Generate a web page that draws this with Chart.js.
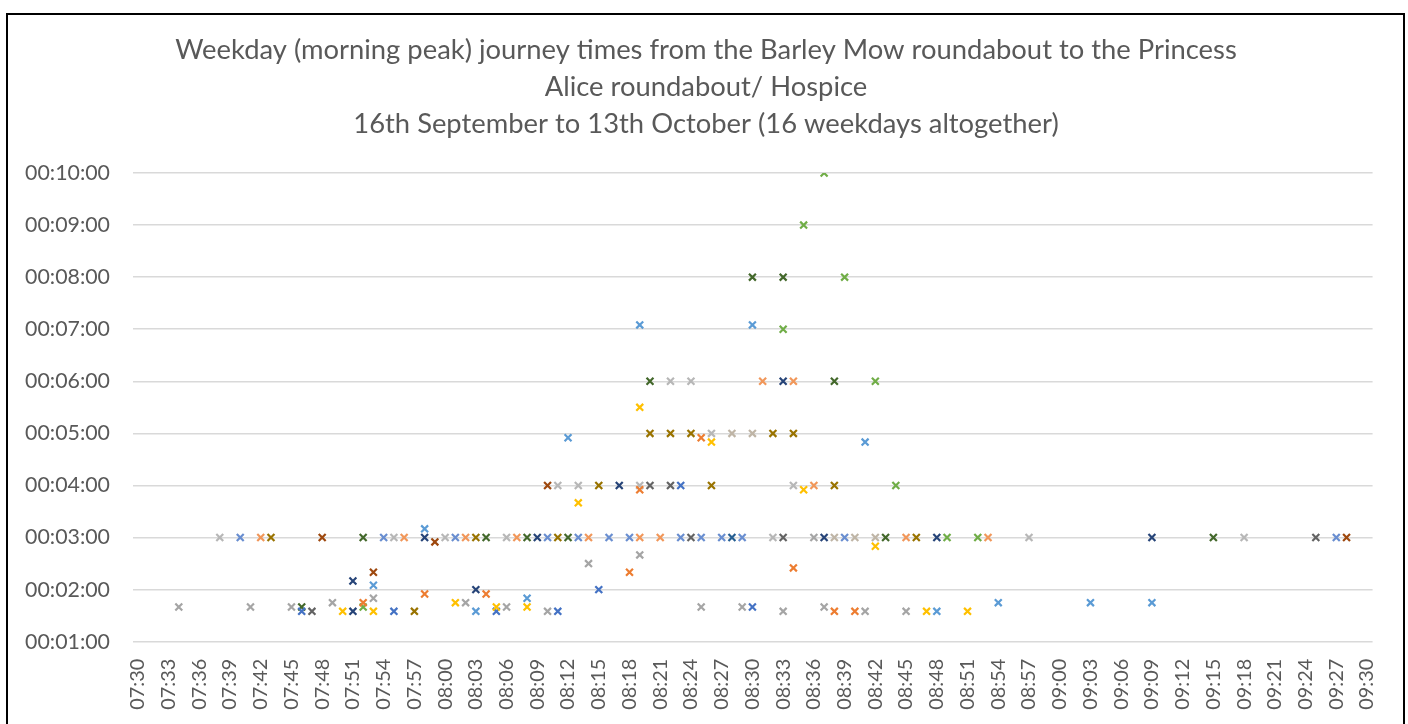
<!DOCTYPE html>
<html><head><meta charset="utf-8">
<script src="https://cdn.jsdelivr.net/npm/chart.js@4.4.0/dist/chart.umd.min.js"></script>
<style>
html,body{margin:0;padding:0;background:#fff;overflow:hidden;width:1408px;height:724px}
#c{position:absolute;left:0;top:0}
#frame{position:absolute;left:6px;top:13px;width:1395px;height:760px;border:2px solid #000;pointer-events:none}
</style></head><body>
<canvas id="c" width="1408" height="724"></canvas>
<div id="frame"></div>
<script>
// ---- data (start time "HH:MM", journey time in seconds) ----
const titleLines = [
  'Weekday (morning peak) journey times from the Barley Mow roundabout to the Princess',
  'Alice roundabout/ Hospice',
  '16th September to 13th October (16 weekdays altogether)'
];
const xTickLabels = ['07:30','07:33','07:36','07:39','07:42','07:45','07:48','07:51','07:54','07:57',
  '08:00','08:03','08:06','08:09','08:12','08:15','08:18','08:21','08:24','08:27','08:30','08:33',
  '08:36','08:39','08:42','08:45','08:48','08:51','08:54','08:57','09:00','09:03','09:06','09:09',
  '09:12','09:15','09:18','09:21','09:24','09:27','09:30'];
const yTickLabels = ['00:01:00','00:02:00','00:03:00','00:04:00','00:05:00','00:06:00','00:07:00','00:08:00','00:09:00','00:10:00'];

const day1 = [['07:53',125],['07:58',190],['08:03',95],['08:08',110],['08:12',295],['08:19',425],['08:30',425],['08:41',290],['08:48',95],['08:54',105],['09:03',105],['09:09',105]];
const day2 = [['07:52',105],['07:58',115],['08:04',115],['08:18',140],['08:19',235],['08:25',295],['08:34',145],['08:38',95],['08:40',95]];
const day3 = [['07:34',100],['07:41',100],['07:45',100],['07:49',105],['07:53',110],['08:02',105],['08:06',100],['08:10',95],['08:14',150],['08:19',160],['08:25',100],['08:29',100],['08:33',95],['08:36',180],['08:37',100],['08:41',95],['08:45',95]];
const day4 = [['07:50',95],['07:53',95],['08:01',105],['08:05',100],['08:08',100],['08:13',220],['08:19',330],['08:26',290],['08:35',235],['08:42',170],['08:47',95],['08:51',95]];
const day5 = [['07:46',95],['07:55',95],['08:05',95],['08:11',95],['08:15',120],['08:23',240],['08:30',100]];
const day6 = [['07:52',100],['08:33',420],['08:35',540],['08:37',600],['08:39',480],['08:42',360],['08:44',240],['08:49',180],['08:52',180]];
const day7 = [['08:28',180]];
const day8 = [['07:48',180],['07:53',140],['07:59',175],['08:10',240],['09:28',180]];
const day9 = [['07:47',95],['08:20',240],['08:22',240],['08:24',180],['08:33',180],['09:25',180]];
const day10 = [['07:43',180],['07:57',95],['08:03',180],['08:11',180],['08:15',240],['08:20',300],['08:22',300],['08:24',300],['08:26',240],['08:32',300],['08:34',300],['08:38',240],['08:46',180]];
const day11 = [['07:51',130],['07:51',95],['07:58',180],['08:03',120],['08:09',180],['08:17',240],['08:33',360],['08:37',180],['08:48',180],['09:09',180]];
const day12 = [['07:46',100],['07:52',180],['08:04',180],['08:08',180],['08:12',180],['08:20',360],['08:30',480],['08:33',480],['08:38',360],['08:43',180],['09:15',180]];
const day13 = [['07:42',180],['07:56',180],['08:02',180],['08:07',180],['08:14',180],['08:19',180],['08:21',180],['08:31',360],['08:34',360],['08:36',240],['08:45',180],['08:53',180]];
const day14 = [['07:38',180],['07:55',180],['08:00',180],['08:06',180],['08:11',240],['08:13',240],['08:19',240],['08:22',360],['08:24',360],['08:26',300],['08:32',180],['08:34',240],['08:57',180],['09:18',180]];
const day15 = [['07:40',180],['07:54',180],['08:01',180],['08:10',180],['08:13',180],['08:16',180],['08:18',180],['08:23',180],['08:25',180],['08:27',180],['08:29',180],['08:39',180],['09:27',180]];
const day16 = [['08:28',300],['08:30',300],['08:38',180],['08:40',180],['08:42',180]];

const seriesList = [day1,day2,day3,day4,day5,day6,day7,day8,day9,day10,day11,day12,day13,day14,day15,day16];
const seriesColors = ['#5B9BD5','#ED7D31','#A5A5A5','#FFC000','#4472C4','#70AD47','#255E91','#9E480E',
  '#636363','#997300','#264478','#43682B','#F1975A','#B7B7B7','#698ED0','#BFB5A6'];

// ---- helpers ----
const toMin = s => { const [h,m] = s.split(':').map(Number); return h*60+m; };
const toSec = s => { const p = s.split(':').map(Number); return p[0]*3600+p[1]*60+p[2]; };
const xTickVals = xTickLabels.map(toMin);
const yTickVals = yTickLabels.map(toSec);

function fitSize(text, family, weight, target){
  const c = document.createElement('canvas').getContext('2d');
  c.font = weight + ' 100px ' + family;
  return 100 * target / c.measureText(text).width;
}
const FAM = 'Lato, "Open Sans", sans-serif';
const titleSize = fitSize(titleLines[0], FAM, '400', 1062);
const ySize = fitSize('00:10:00', FAM, '400', 85);
const xSize = fitSize('07:30', FAM, '400', 51);

const datasets = seriesList.map((s,i) => ({
  label: 'Day ' + (i+1),
  data: s.map(([t,v]) => ({x: toMin(t), y: v})),
  pointStyle: 'crossRot',
  pointRadius: 4.9,
  pointBorderWidth: 2.2,
  borderColor: seriesColors[i],
  backgroundColor: seriesColors[i],
  showLine: false
}));

const titleShift = {
  id: 'titleShift',
  afterLayout(chart) {
    const t = chart.titleBlock;
    if (t) { t.left += 19; t.right += 19; }
  }
};

new Chart(document.getElementById('c'), {
  type: 'scatter',
  data: { datasets },
  plugins: [titleShift],
  options: {
    responsive: false,
    animation: false,
    devicePixelRatio: 1,
    layout: { padding: { left: 0, right: 34, top: 0, bottom: 0 } },
    plugins: {
      legend: { display: false },
      tooltip: { enabled: false },
      title: {
        display: true,
        text: titleLines,
        color: '#595959',
        font: { family: FAM, weight: '400', size: titleSize, lineHeight: '37px' },
        padding: { top: 32, bottom: 30 }
      }
    },
    scales: {
      x: {
        type: 'linear',
        min: xTickVals[0] - 0.47,
        max: xTickVals[xTickVals.length-1] + 0.54,
        afterBuildTicks: sc => { sc.ticks = xTickVals.map(v => ({value: v})); },
        afterFit: sc => { sc.height = 724 - 641.7; },
        grid: { display: false, drawTicks: false },
        border: { display: false },
        ticks: {
          autoSkip: false, minRotation: 90, maxRotation: 90, padding: 17,
          color: '#595959', font: { family: FAM, size: xSize },
          callback: (v, i) => xTickLabels[xTickVals.indexOf(v)]
        }
      },
      y: {
        type: 'linear',
        min: yTickVals[0],
        max: yTickVals[yTickVals.length-1],
        afterBuildTicks: sc => { sc.ticks = yTickVals.map(v => ({value: v})); },
        afterFit: sc => { sc.width = 133; },
        grid: { color: '#D9D9D9', lineWidth: 1.6, drawTicks: false },
        border: { display: false },
        ticks: {
          padding: 23, color: '#595959', font: { family: FAM, size: ySize },
          callback: v => yTickLabels[yTickVals.indexOf(v)]
        }
      }
    }
  }
});
</script>
</body></html>
